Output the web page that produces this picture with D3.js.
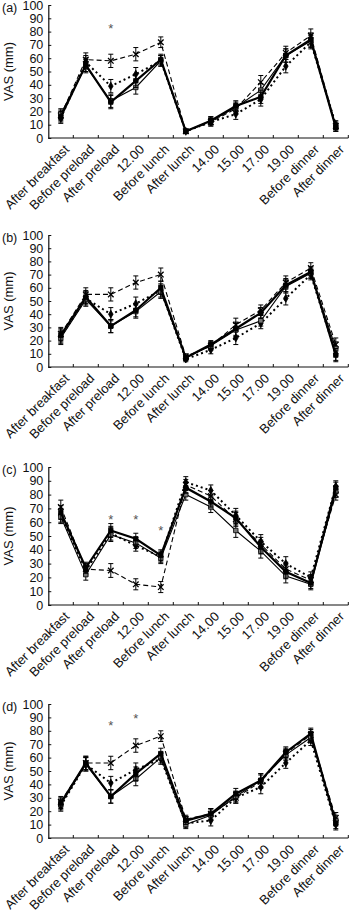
<!DOCTYPE html>
<html>
<head>
  <script src="https://cdn.jsdelivr.net/npm/d3@7"></script>
  <style>
    body { margin: 0; background: #fff; }
    text { font-family: "Liberation Sans", Arial, sans-serif; }
  </style>
</head>
<body>
  <svg width="350" height="913" id="mainsvg"></svg>
  <script>
    const svg = d3.select('svg');

    const times = ["After breakfast", "Before preload", "After preload", "12.00", "Before lunch", "After lunch",
      "14.00", "15.00", "17.00", "19.00", "Before dinner", "After dinner"];
    const yTicks = [0, 10, 20, 30, 40, 50, 60, 70, 80, 90, 100];

    // series: thick solid, thin solid, dashed, dotted
    const aThick  = [16, 55, 27, 43, 59, 5, 13, 24, 31, 62, 74, 8];
    const aThin   = [18, 54, 28, 38, 58, 5, 13, 23, 36, 62, 73, 8];
    const aDashed = [17, 59, 58, 63, 72, 5, 12, 22, 42, 64, 77, 9];
    const aDotted = [15, 57, 39, 48, 58, 5, 12, 18, 29, 54, 72, 10];
    const aErr    = [4, 5, 5, 5, 4, 1.5, 3, 4, 5, 5, 5, 3];

    const bThick  = [24, 53, 31, 43, 60, 7, 17, 29, 41, 62, 72, 9];
    const bThin   = [22, 51, 31, 42, 57, 7, 16, 28, 35, 61, 71, 14];
    const bDashed = [25, 55, 55, 64, 70, 8, 16, 32, 43, 64, 75, 17];
    const bDotted = [23, 52, 40, 48, 58, 6, 13, 22, 33, 52, 70, 10];
    const bErr    = [5, 5, 5, 5, 5, 2, 3, 5, 4, 5, 4, 5];

    const cThick  = [67, 27, 54, 48, 36, 85, 75, 63, 42, 24, 16, 85];
    const cThin   = [64, 22, 51, 45, 34, 80, 71, 54, 39, 21, 15, 82];
    const cDashed = [71, 26, 25, 15, 13, 87, 79, 62, 44, 26, 18, 80];
    const cDotted = [65, 25, 52, 43, 35, 89, 83, 65, 46, 30, 20, 86];
    const cErr    = [5, 4, 5, 4, 4, 4, 4, 5, 5, 5, 4, 4];

    const dThick  = [26, 56, 31, 48, 63, 13, 18, 33, 43, 64, 78, 11];
    const dThin   = [25, 55, 31, 44, 60, 10, 17, 31, 43, 62, 75, 13];
    const dDashed = [27, 56, 56, 69, 76, 14, 18, 30, 42, 63, 77, 15];
    const dDotted = [24, 55, 41, 51, 59, 11, 13, 30, 38, 56, 73, 10];
    const dErr    = [4, 5, 5, 5, 4, 3, 4, 4, 5, 4, 4, 4];

    // significance asterisks: [time, y value]
    const aStars = [["After preload", 84]];
    const bStars = [];
    const cStars = [["After preload", 64], ["12.00", 64], ["Before lunch", 56]];
    const dStars = [["After preload", 86], ["12.00", 91]];

    const panels = [
      { label: "(a)", top: 5, bottom: 138, series: [aThick, aThin, aDashed, aDotted], err: aErr, stars: aStars },
      { label: "(b)", top: 235, bottom: 367, series: [bThick, bThin, bDashed, bDotted], err: bErr, stars: bStars },
      { label: "(c)", top: 467, bottom: 605, series: [cThick, cThin, cDashed, cDotted], err: cErr, stars: cStars },
      { label: "(d)", top: 704, bottom: 838, series: [dThick, dThin, dDashed, dDotted], err: dErr, stars: dStars }
    ];

    const styles = [
      { width: 2.2, dash: null, marker: 'square', fill: '#000' },
      { width: 1.1, dash: null, marker: 'square', fill: '#777' },
      { width: 1.1, dash: '5,3', marker: 'cross', fill: '#000' },
      { width: 2, dash: '2,3', marker: 'diamond', fill: '#000' }
    ];

    const x = d3.scaleBand().domain(times).range([48.3, 348.3]).padding(0);

    const drawPanel = (p) => {
      const y = d3.scaleLinear().domain([0, 100]).range([p.bottom, p.top]);
      const g = svg.append('g');

      // y axis
      const yAxis = g.append('g')
        .attr('transform', `translate(${x.range()[0]},0)`)
        .call(d3.axisLeft(y).tickValues(yTicks).tickSizeInner(-3).tickSizeOuter(0).tickPadding(5));
      yAxis.select('.domain').attr('stroke', '#111').attr('stroke-width', 1.2);
      yAxis.selectAll('.tick line').attr('stroke', '#111');
      yAxis.selectAll('text').attr('font-size', 12.5).style('fill', '#111');

      // x axis: line, ticks at band boundaries, rotated labels
      const xg = g.append('g');
      xg.append('line')
        .attr('x1', x.range()[0]).attr('x2', x.range()[1])
        .attr('y1', p.bottom).attr('y2', p.bottom)
        .attr('stroke', '#111').attr('stroke-width', 1.2);
      xg.selectAll('.xt').data(times).join('line')
        .attr('x1', d => x(d) + x.bandwidth()).attr('x2', d => x(d) + x.bandwidth())
        .attr('y1', p.bottom).attr('y2', p.bottom - 3)
        .attr('stroke', '#111');
      xg.selectAll('.xl').data(times).join('text')
        .attr('transform', d => `translate(${x(d) + x.bandwidth() / 2 + 6},${p.bottom + 9}) rotate(-45)`)
        .attr('text-anchor', 'end')
        .attr('dy', '0.35em')
        .attr('font-size', 13)
        .style('fill', '#111')
        .text(d => d);

      // labels
      g.append('text').attr('x', 2).attr('y', p.top + 3).attr('dy', '0.35em')
        .attr('font-size', 12.5).style('fill', '#111').text(p.label);
      g.append('text')
        .attr('transform', `translate(13,${(p.top + p.bottom) / 2}) rotate(-90)`)
        .attr('text-anchor', 'middle')
        .attr('font-size', 13)
        .style('fill', '#111')
        .text('VAS (mm)');

      const cx = d => x(d) + x.bandwidth() / 2;
      const line = d3.line().x((d, i) => cx(times[i])).y(d => y(d));

      // draw the back series first so the thick solid one sits on top
      [2, 3, 1, 0].forEach(si => {
        const vals = p.series[si];
        const st = styles[si];
        const sg = g.append('g');

        sg.append('path')
          .datum(vals)
          .attr('d', line)
          .attr('fill', 'none')
          .attr('stroke', '#000')
          .attr('stroke-width', st.width)
          .attr('stroke-dasharray', st.dash);

        // error bars
        const eb = sg.selectAll('.eb').data(vals).join('g');
        eb.append('line')
          .attr('x1', (d, i) => cx(times[i])).attr('x2', (d, i) => cx(times[i]))
          .attr('y1', (d, i) => y(d - p.err[i])).attr('y2', (d, i) => y(d + p.err[i]))
          .attr('stroke', '#000').attr('stroke-width', 1);
        [-1, 1].forEach(sgn => {
          eb.append('line')
            .attr('x1', (d, i) => cx(times[i]) - 2.5).attr('x2', (d, i) => cx(times[i]) + 2.5)
            .attr('y1', (d, i) => y(d + sgn * p.err[i])).attr('y2', (d, i) => y(d + sgn * p.err[i]))
            .attr('stroke', '#000').attr('stroke-width', 1);
        });

        // markers
        let sym;
        if (st.marker === 'square') sym = d3.symbol().type(d3.symbolSquare).size(20);
        else if (st.marker === 'diamond') sym = d3.symbol().type(d3.symbolDiamond).size(18);
        else sym = d3.symbol().type(d3.symbolTimes).size(22);
        sg.selectAll('.mk').data(vals).join('path')
          .attr('transform', (d, i) => `translate(${cx(times[i])},${y(d)})`)
          .attr('d', sym)
          .attr('fill', st.fill)
          .attr('stroke', '#000')
          .attr('stroke-width', st.marker === 'cross' ? 1.3 : 0.8);
      });

      // asterisks
      g.selectAll('.star').data(p.stars).join('text')
        .attr('x', d => cx(d[0]))
        .attr('y', d => y(d[1]) + 7)
        .attr('text-anchor', 'middle')
        .attr('font-size', 13)
        .style('fill', '#555')
        .text('*');
    };

    panels.forEach(drawPanel);
  </script>
</body>
</html>
